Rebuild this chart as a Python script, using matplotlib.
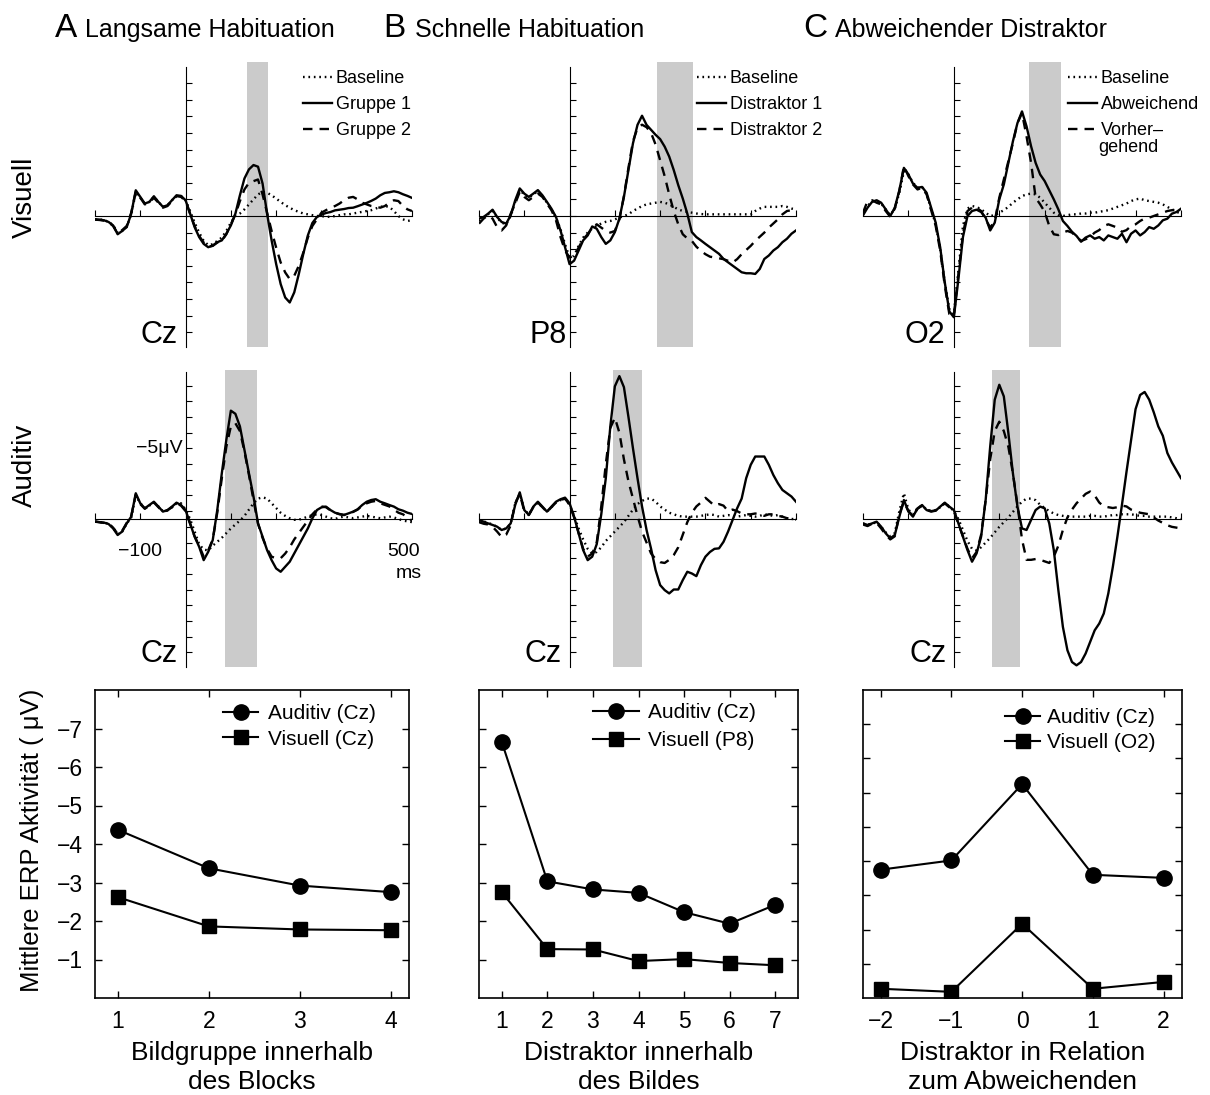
import numpy as np
import matplotlib
matplotlib.use("Agg")
import matplotlib.pyplot as plt

plt.rcParams['font.family'] = ['Liberation Sans', 'DejaVu Sans']

# ---------------- data ----------------
T = list(range(-200, 501, 10))  # ms sample times

# Column A (Langsame Habituation)
a_vis_base = [0.2, 0.2, 0.25, 0.35, 0.55, 1.0, 0.9, 0.65, -0.1, -1.4, -1.1, -0.75, -0.85, -1.15, -0.85, -0.55, -0.65, -0.95, -1.2, -1.2,
              -0.95, -0.3, 0.4, 1.0, 1.5, 1.75, 1.7, 1.5, 1.3, 0.9,
              0.4, 0.0, -0.15, -0.4, -0.7, -1.0, -1.3, -1.45, -1.4, -1.25,
              -1.05, -0.85, -0.65, -0.5, -0.35, -0.25, -0.15, -0.1, -0.05, 0.0,
              0.0, 0.05, 0.05, 0.0, -0.05, -0.1, -0.1, -0.15, -0.2, -0.25,
              -0.3, -0.35, -0.45, -0.55, -0.6, -0.55, -0.3, 0.0, 0.2, 0.3, 0.25]
a_vis_g1 = [0.2, 0.22, 0.26, 0.36, 0.57, 1.1, 0.9, 0.67, -0.14, -1.55, -1.15, -0.75, -0.85, -1.19, -0.85, -0.55, -0.65, -0.95, -1.25, -1.21,
            -0.95, -0.14, 0.67, 1.27, 1.68, 1.88, 1.78, 1.58, 1.47, 1.07,
            0.57, -0.14, -1.25, -2.26, -2.81, -3.07, -2.97, -1.96, -0.14, 1.47,
            2.89, 4.1, 4.91, 5.21, 4.6, 3.5, 2.28, 1.17, 0.42, 0.06,
            -0.08, -0.18, -0.24, -0.34, -0.38, -0.42, -0.48, -0.5, -0.59, -0.69,
            -0.79, -0.91, -1.05, -1.25, -1.39, -1.43, -1.49, -1.43, -1.31, -1.21, -1.09]
a_vis_g2 = [0.22, 0.24, 0.28, 0.38, 0.6, 1.05, 0.85, 0.6, -0.2, -1.45, -1.1, -0.7, -0.8, -1.1, -0.8, -0.5, -0.6, -0.9, -1.2, -1.15,
            -0.9, -0.14, 0.6, 1.2, 1.6, 1.85, 1.8, 1.6, 1.5, 1.1,
            0.5, -0.1, -0.9, -1.6, -2.0, -2.1, -2.2, -1.3, -0.2, 0.9,
            1.9, 2.8, 3.4, 3.8, 3.6, 3.0, 2.2, 1.3, 0.6, 0.2,
            -0.2, -0.35, -0.5, -0.6, -0.75, -0.95, -1.1, -1.15, -1.0, -0.8,
            -0.7, -0.6, -0.55, -0.5, -0.6, -0.8, -0.95, -0.9, -0.6, -0.4, -0.3]
a_aud_base = [0.17, 0.2, 0.23, 0.3, 0.55, 0.95, 0.8, 0.3, -0.1, -1.5, -1.0, -0.7, -0.85, -1.05, -0.8, -0.5, -0.55, -0.75, -1.0, -1.0,
              -0.6, 0.0, 0.8, 1.6, 1.95, 2.0, 1.7, 1.45, 1.2, 0.9,
              0.6, 0.35, 0.1, -0.2, -0.6, -1.0, -1.3, -1.38, -1.3, -1.0,
              -0.7, -0.4, -0.2, -0.05, 0.05, 0.05, -0.05, -0.15, -0.25, -0.3,
              -0.25, -0.15, -0.05, 0.0, -0.1, -0.15, -0.1, -0.05, -0.1, -0.15,
              -0.2, -0.15, -0.1, -0.05, -0.1, -0.15, -0.1, 0.0, 0.1, 0.15, 0.2]
a_aud_g1 = [0.17, 0.21, 0.23, 0.32, 0.6, 1.02, 0.8, 0.28, -0.15, -1.64, -1.0, -0.68, -0.89, -1.1, -0.79, -0.47, -0.57, -0.79, -1.04, -0.89,
            -0.57, 0.28, 1.13, 1.77, 2.62, 2.09, 1.34, -0.57, -2.91, -5.04,
            -6.9, -6.7, -5.9, -4.4, -2.9, -1.43, 0.28, 1.13, 1.98, 2.62,
            3.15, 3.36, 3.04, 2.72, 2.19, 1.66, 1.13, 0.6, -0.04, -0.57,
            -0.74, -0.79, -0.57, -0.4, -0.32, -0.26, -0.36, -0.47, -0.62, -0.89,
            -1.1, -1.21, -1.26, -1.1, -1.0, -0.89, -0.79, -0.62, -0.53, -0.4, -0.32]
a_aud_g2 = [0.15, 0.2, 0.25, 0.3, 0.55, 0.95, 0.75, 0.25, -0.2, -1.55, -0.95, -0.65, -0.85, -1.05, -0.75, -0.45, -0.55, -0.75, -1.0, -0.85,
            -0.5, 0.3, 1.1, 1.7, 2.4, 2.0, 1.3, -0.4, -2.6, -4.6,
            -5.9, -6.1, -5.6, -4.3, -2.8, -1.2, 0.3, 1.2, 1.9, 2.4,
            2.5, 2.5, 2.2, 1.8, 1.3, 0.9, 0.5, 0.1, -0.3, -0.6,
            -0.8, -0.75, -0.55, -0.4, -0.3, -0.25, -0.35, -0.45, -0.6, -0.85,
            -1.0, -1.1, -1.15, -1.0, -0.9, -0.8, -0.6, -0.4, -0.3, -0.1, 0.1]

# Column B (Schnelle Habituation)
b_vis_base = [0.3, 0.1, -0.1, -0.3, 0.1, 0.4, 0.5, 0.0, -0.85, -1.55, -1.3, -1.1, -1.3, -1.5, -1.2, -0.8, -0.4, 0.1, 0.8, 1.7,
              2.5, 2.4, 1.8, 1.3, 1.0, 0.75, 0.6, 0.45, 0.35, 0.3,
              0.2, 0.1, 0.0, -0.1, -0.3, -0.45, -0.6, -0.7, -0.75, -0.8,
              -0.85, -0.8, -0.7, -0.55, -0.4, -0.3, -0.25, -0.2, -0.15, -0.12,
              -0.1, -0.1, -0.1, -0.1, -0.1, -0.1, -0.1, -0.1, -0.1, -0.1,
              -0.1, -0.3, -0.45, -0.55, -0.55, -0.55, -0.55, -0.6, -0.55, -0.45, -0.4]
b_vis_d1 = [0.16, 0.06, -0.14, -0.38, 0.06, 0.36, 0.46, -0.04, -0.95, -1.66, -1.35, -1.15, -1.35, -1.56, -1.25, -0.85, -0.44, 0.06, 0.87, 1.88,
            2.9, 2.69, 2.08, 1.47, 1.17, 0.63, 0.77, 1.27, 1.68, 1.47,
            0.97, 0.16, -1.15, -2.77, -4.38, -5.49, -6.04, -5.49, -5.19, -4.89,
            -4.63, -4.18, -3.58, -2.77, -1.86, -1.05, -0.14, 0.97, 1.27, 1.47,
            1.68, 1.88, 2.08, 2.28, 2.59, 2.79, 2.99, 3.19, 3.39, 3.45,
            3.45, 3.49, 3.19, 2.59, 2.38, 2.08, 1.88, 1.58, 1.37, 1.07, 0.87]
b_vis_d2 = [0.46, 0.16, -0.04, 0.16, 0.67, 0.87, 0.57, -0.14, -0.75, -1.45, -1.15, -0.95, -1.15, -1.35, -1.15, -0.75, -0.35, 0.26, 1.27, 2.08,
            2.5, 2.4, 1.9, 1.4, 1.1, 0.7, 0.5, 0.7, 0.9, 1.0,
            0.9, 0.2, -1.2, -2.9, -4.5, -5.3, -5.5, -5.35, -5.0, -4.3,
            -3.35, -2.4, -1.3, -0.3, 0.5, 1.1, 1.35, 1.5, 1.85, 2.1,
            2.3, 2.45, 2.5, 2.55, 2.6, 2.7, 2.8, 2.6, 2.3, 2.05,
            1.8, 1.5, 1.25, 1.0, 0.7, 0.45, 0.2, -0.1, -0.3, -0.35, -0.3]
b_aud_base = [0.1, 0.15, 0.25, 0.35, 0.5, 0.7, 0.6, 0.3, -1.0, -1.6, -0.6, -0.3, -0.75, -1.05, -0.75, -0.45, -0.75, -1.05, -1.2, -1.3,
              -0.9, -0.2, 0.6, 1.3, 1.9, 2.2, 2.1, 1.8, 1.4, 1.1,
              0.8, 0.5, 0.2, -0.2, -0.6, -0.95, -1.15, -1.3, -1.3, -1.1,
              -0.8, -0.6, -0.4, -0.3, -0.2, -0.15, -0.15, -0.15, -0.15, -0.2,
              -0.25, -0.3, -0.25, -0.15, -0.2, -0.25, -0.2, -0.15, -0.2, -0.25,
              -0.2, -0.15, -0.2, -0.3, -0.25, -0.2, -0.25, -0.15, -0.05, 0.0, 0.0]
b_aud_d1 = [0.06, 0.17, 0.28, 0.38, 0.49, 0.7, 0.6, 0.28, -0.9, -1.7, -0.57, -0.26, -0.79, -1.1, -0.79, -0.47, -0.79, -1.1, -1.26, -1.36,
            -1.0, -0.15, 0.91, 1.98, 2.62, 2.4, 1.6, -0.3, -2.6, -5.9,
            -8.45, -9.1, -8.4, -6.5, -4.5, -2.6, -0.8, 0.7, 1.9, 3.26,
            4.21, 4.53, 4.74, 4.49, 4.49, 3.89, 3.36, 3.47, 3.64, 2.94,
            2.4, 2.1, 1.9, 1.87, 1.45, 0.8, 0.06, -0.68, -1.3, -2.6,
            -3.45, -3.98, -3.98, -3.98, -3.45, -2.8, -2.28, -1.85, -1.64, -1.43, -1.1]
b_aud_d2 = [0.2, 0.3, 0.35, 0.5, 0.8, 1.15, 1.0, 0.4, -1.0, -1.6, -0.5, -0.25, -0.75, -1.05, -0.75, -0.45, -0.75, -1.05, -1.2, -1.3,
            -0.9, -0.1, 0.9, 1.9, 2.4, 2.2, 1.5, -0.8, -3.5, -5.8,
            -6.45, -5.5, -3.8, -2.4, -1.3, -0.2, 0.8, 1.5, 2.2, 2.55,
            2.75, 2.8, 2.6, 2.3, 1.8, 1.0, 0.2, -0.4, -0.8, -1.05,
            -1.35, -1.1, -0.85, -0.95, -0.85, -0.5, -0.6, -0.5, -0.35, -0.3,
            -0.3, -0.35, -0.3, -0.2, -0.3, -0.3, -0.2, -0.15, -0.05, 0.0, 0.05]

# Column C (Abweichender Distraktor)
c_vis_base = [-0.1, -0.6, -0.9, -0.9, -0.75, -0.4, -0.05, -0.45, -1.4, -2.7, -2.5, -2.0, -1.7, -1.75, -1.35, -0.4, 0.5, 2.0, 4.0, 5.6,
              5.9, 3.3, 0.6, -0.45, -0.6, -0.55, -0.4, -0.2, 0.0, -0.05,
              -0.2, -0.35, -0.55, -0.8, -1.0, -1.2, -1.3, -1.35, -1.3, -1.1,
              -0.8, -0.5, -0.2, -0.05, 0.0, -0.05, -0.1, -0.1, -0.15, -0.15,
              -0.2, -0.2, -0.25, -0.3, -0.35, -0.45, -0.55, -0.65, -0.75, -0.9,
              -1.0, -1.05, -0.95, -0.9, -0.85, -0.8, -0.7, -0.55, -0.4, -0.25, -0.15]
c_vis_dev = [-0.04, -0.5, -0.85, -0.95, -0.8, -0.4, 0.0, -0.5, -1.55, -2.9, -2.5, -1.95, -1.7, -1.75, -1.4, -0.5, 0.4, 1.9, 4.0, 5.75,
             6.1, 3.8, 1.27, 0.0, -0.3, -0.38, -0.24, 0.1, 0.87, 0.4,
             -1.0, -1.9, -3.2, -4.5, -5.6, -6.3, -5.4, -4.2, -3.2, -2.5,
             -2.1, -1.55, -1.0, -0.4, 0.3, 0.6, 0.95, 1.2, 1.55, 1.3,
             1.17, 1.37, 1.27, 1.47, 1.17, 1.27, 1.37, 1.07, 1.58, 1.07,
             0.87, 1.17, 0.97, 0.67, 0.77, 0.57, 0.26, 0.16, -0.14, -0.24, -0.44]
c_vis_pre = [-0.2, -0.9, -0.95, -0.8, -0.7, -0.3, 0.05, -0.45, -1.5, -3.0, -2.4, -1.9, -1.6, -1.7, -1.3, -0.35, 0.6, 2.1, 4.2, 5.9,
             6.0, 3.5, 1.1, -0.3, -0.5, -0.5, -0.3, 0.2, 0.7, 0.3,
             -1.1, -2.2, -3.3, -4.4, -5.6, -6.2, -4.8, -3.2, -1.1, -0.7,
             -0.25, 0.6, 1.1, 1.15, 1.0, 0.9, 1.0, 1.25, 1.5, 1.4,
             1.25, 1.0, 0.85, 0.6, 0.5, 0.6, 0.7, 0.95, 0.85, 0.6,
             0.5, 0.3, 0.15, 0.1, 0.0, -0.1, -0.2, -0.3, -0.35, -0.38, -0.4]
c_aud_base = [0.3, 0.35, 0.3, 0.2, 0.5, 0.85, 1.1, 0.9, -0.5, -1.64, -0.6, -0.3, -0.7, -0.85, -0.6, -0.5, -0.55, -0.75, -1.0, -0.8,
              -0.5, 0.0, 0.7, 1.4, 1.9, 2.0, 1.8, 1.5, 1.2, 0.85,
              0.5, 0.2, -0.1, -0.45, -0.8, -1.1, -1.3, -1.3, -1.2, -0.9,
              -0.7, -0.5, -0.35, -0.25, -0.2, -0.15, -0.15, -0.15, -0.15, -0.15,
              -0.2, -0.2, -0.15, -0.15, -0.2, -0.25, -0.25, -0.3, -0.3, -0.3,
              -0.25, -0.2, -0.2, -0.15, -0.15, -0.15, -0.15, -0.15, -0.1, -0.05, 0.0]
c_aud_dev = [0.28, 0.38, 0.28, 0.17, 0.49, 0.91, 1.23, 1.02, -0.15, -1.21, -0.47, -0.15, -0.68, -0.89, -0.57, -0.47, -0.53, -0.79, -1.04, -0.79,
             -0.57, 0.28, 1.13, 1.98, 2.72, 2.19, 1.13, -1.21, -4.62, -7.6,
             -8.55, -7.81, -5.47, -2.91, -0.79, 0.6, 0.7, 0.06, -0.57, -0.79,
             -0.68, 0.28, 1.98, 4.53, 6.87, 8.36, 9.11, 9.32, 9.11, 8.57,
             7.83, 7.09, 6.66, 6.02, 4.74, 3.04, 1.13, -0.9, -3.0, -5.0,
             -7.0, -7.9, -8.09, -7.6, -6.8, -5.9, -5.3, -4.2, -3.6, -3.1, -2.6]
c_aud_pre = [0.35, 0.45, 0.3, 0.25, 0.6, 1.0, 1.3, 1.1, -0.3, -1.1, -0.5, -0.2, -0.65, -0.85, -0.6, -0.5, -0.55, -0.8, -1.0, -0.75,
             -0.5, 0.3, 1.1, 1.9, 2.5, 2.1, 1.0, -1.2, -3.8, -5.6,
             -6.2, -5.6, -4.6, -2.9, -0.9, 1.3, 2.6, 2.6, 2.55, 2.6,
             2.7, 2.8, 2.4, 1.7, 0.7, -0.1, -0.6, -1.0, -1.3, -1.6,
             -1.75, -1.5, -1.05, -0.8, -0.75, -0.7, -0.75, -0.85, -0.8, -0.6,
             -0.5, -0.4, -0.35, -0.3, -0.1, 0.1, 0.25, 0.4, 0.5, 0.55, 0.6]

# analysis windows (ms)
bands = {('A', 0): (135, 181), ('A', 1): (88, 157),
         ('B', 0): (192, 272), ('B', 1): (97, 159),
         ('C', 0): (166, 236), ('C', 1): (84, 146)}

# bottom-row summary data (mean ERP amplitude, µV)
a_x = [1, 2, 3, 4]
a_aud = [-4.37, -3.37, -2.92, -2.75]
a_vis = [-2.62, -1.86, -1.78, -1.76]
b_x = [1, 2, 3, 4, 5, 6, 7]
b_aud = [-6.65, -3.03, -2.82, -2.73, -2.23, -1.93, -2.42]
b_vis = [-2.75, -1.27, -1.26, -0.96, -1.01, -0.91, -0.85]
c_x = [-2, -1, 0, 1, 2]
c_aud = [-3.75, -4.02, -6.25, -3.6, -3.51]
c_vis = [-0.27, -0.18, -2.17, -0.27, -0.47]

# ---------------- layout ----------------
W, H = 1210, 1095
fig = plt.figure(figsize=(W / 100, H / 100), dpi=100)


def add_px(x0, y0, x1, y1):
    return fig.add_axes([x0 / W, 1 - y1 / H, (x1 - x0) / W, (y1 - y0) / H])


def ftext(x, y, s, **kw):
    return fig.text(x / W, 1 - y / H, s, **kw)


cols = {'A': (95, 412, 185), 'B': (479, 796, 570), 'C': (863, 1181, 954)}
rows = {0: dict(y0=62, y1=347, zero=216, unit=16.6, top=67, ticks=np.arange(-8, 8, 1.0), elec_y=7.65),
        1: dict(y0=370, y1=667, zero=519, unit=15.7, top=372, ticks=np.arange(-8.5, 9, 1.0), elec_y=9.1)}

LW = 1.7


def erp_panel(col, row, base, solid, dashed, elec, elec_dx, legend=None):
    x0, x1, xaxis = cols[col]
    r = rows[row]
    ax = add_px(x0, r['y0'], x1, r['y1'])
    ytop = -(r['zero'] - r['y0']) / r['unit']
    ybot = (r['y1'] - r['zero']) / r['unit']
    ax.set_xlim(-200, 500)
    ax.set_ylim(ybot, ytop)
    ax.patch.set_alpha(0)
    ax.axvspan(*bands[(col, row)], color='#cbcbcb', lw=0, zorder=0)
    lb, = ax.plot(T, base, color='k', lw=LW, ls=(0, (0.7, 1.6)), zorder=3)
    ls_, = ax.plot(T, solid, color='k', lw=LW, ls='-', zorder=4)
    ld, = ax.plot(T, dashed, color='k', lw=LW, ls=(0, (4, 3)), zorder=3)
    for s in ('top', 'right'):
        ax.spines[s].set_visible(False)
    ax.spines['left'].set_position(('data', 0))
    ax.spines['bottom'].set_position(('data', 0))
    ax.spines['left'].set_bounds(-(r['zero'] - r['top']) / r['unit'], ybot)
    for s in ('left', 'bottom'):
        ax.spines[s].set_linewidth(0.8)
        ax.spines[s].set_zorder(2)
    ax.set_xticks(range(-200, 501, 100))
    ax.set_yticks(r['ticks'])
    ax.tick_params(direction='in', length=4, width=0.8, labelbottom=False, labelleft=False)
    ax.text(elec_dx, r['elec_y'], elec, ha='right', va='baseline', fontsize=22)
    if legend is not None:
        labels, lx = legend
        ax.legend([lb, ls_, ld], labels, loc='upper left',
                  bbox_to_anchor=(lx / W, 1 - 70 / H), bbox_transform=fig.transFigure,
                  frameon=False, fontsize=13, handlelength=1.6, handletextpad=0.2,
                  labelspacing=0.5, borderpad=0, borderaxespad=0)
    return ax


erp_panel('A', 0, a_vis_base, a_vis_g1, a_vis_g2, 'Cz', -17,
          (['Baseline', 'Gruppe 1', 'Gruppe 2'], 303))
axA2 = erp_panel('A', 1, a_aud_base, a_aud_g1, a_aud_g2, 'Cz', -17)
erp_panel('B', 0, b_vis_base, b_vis_d1, b_vis_d2, 'P8', -7,
          (['Baseline', 'Distraktor 1', 'Distraktor 2'], 697))
erp_panel('B', 1, b_aud_base, b_aud_d1, b_aud_d2, 'Cz', -17)
erp_panel('C', 0, c_vis_base, c_vis_dev, c_vis_pre, 'O2', -19,
          (['Baseline', 'Abweichend', 'Vorher–'], 1068))
erp_panel('C', 1, c_aud_base, c_aud_dev, c_aud_pre, 'Cz', -15)
ftext(1098, 148, 'gehend', fontsize=13, ha='left', va='center')

# scale annotations in panel A (auditory)
axA2.text(-7, -4.5, '−5μV', ha='right', va='center', fontsize=14)
axA2.text(-100, 2.1, '−100', ha='center', va='center', fontsize=14)
axA2.text(481, 2.1, '500', ha='center', va='center', fontsize=14)
axA2.text(492, 3.45, 'ms', ha='center', va='center', fontsize=14)

# titles
for letter, lx, title, tx in [('A', 55, 'Langsame Habituation', 85),
                              ('B', 383, 'Schnelle Habituation', 415),
                              ('C', 803, 'Abweichender Distraktor', 835)]:
    ftext(lx, 37, letter, fontsize=24, ha='left', va='baseline')
    ftext(tx, 37, title, fontsize=18, ha='left', va='baseline')

ftext(25, 197, 'Visuell', fontsize=20, rotation=90, ha='center', va='center')
ftext(25, 465, 'Auditiv', fontsize=20, rotation=90, ha='center', va='center')


# ---------------- bottom row ----------------
def summary_panel(rect, x, aud, vis, xlim, ylim, yticks, showy, labels, leg):
    ax = add_px(*rect)
    la, = ax.plot(x, aud, color='k', lw=1.5, marker='o', ms=11)
    lv, = ax.plot(x, vis, color='k', lw=1.5, marker='s', ms=10)
    ax.set_xlim(*xlim)
    ax.set_ylim(*ylim)
    ax.set_xticks(x)
    ax.set_yticks(yticks)
    ax.tick_params(direction='in', top=True, right=True, length=5, width=1,
                   labelsize=16.5, pad=9, labelleft=showy)
    for s in ax.spines.values():
        s.set_linewidth(1.2)
    lx, ly, hl, htp, lsp = leg
    ax.legend([la, lv], labels, loc='upper left', bbox_to_anchor=(lx / W, 1 - ly / H),
              bbox_transform=fig.transFigure, frameon=False, fontsize=15,
              handlelength=hl, handletextpad=htp, labelspacing=lsp,
              borderpad=0, borderaxespad=0, numpoints=1)
    return ax


summary_panel((95, 690, 409, 998), a_x, a_aud, a_vis, (0.75, 4.2), (0, -8),
              [-7, -6, -5, -4, -3, -2, -1], True, ['Auditiv (Cz)', 'Visuell (Cz)'],
              (222.7, 704, 1.71, 0.48, 0.32))
summary_panel((479, 690, 798, 998), b_x, b_aud, b_vis, (0.5, 7.5), (0, -8),
              [-7, -6, -5, -4, -3, -2, -1], False, ['Auditiv (Cz)', 'Visuell (P8)'],
              (592.7, 703, 2.2, 0.45, 0.45))
summary_panel((863, 690, 1182, 998), c_x, c_aud, c_vis, (-2.25, 2.26), (0, -9),
              [-8, -7, -6, -5, -4, -3, -2, -1], False, ['Auditiv (Cz)', 'Visuell (O2)'],
              (1005, 708, 1.68, 0.35, 0.3))

ftext(31.7, 840, 'Mittlere ERP Aktivität ( μV)', fontsize=18.5, rotation=90, ha='center', va='center')
for cx, l1, l2 in [(252, 'Bildgruppe innerhalb', 'des Blocks'),
                   (638.5, 'Distraktor innerhalb', 'des Bildes'),
                   (1022.5, 'Distraktor in Relation', 'zum Abweichenden')]:
    ftext(cx, 1053, l1, fontsize=19, ha='center', va='center')
    ftext(cx, 1082, l2, fontsize=19, ha='center', va='center')

fig.savefig('out.png', dpi=100)
